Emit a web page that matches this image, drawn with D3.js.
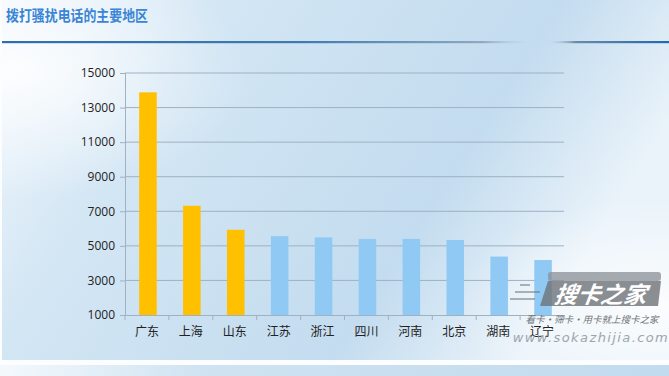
<!DOCTYPE html>
<html><head><meta charset="utf-8">
<script src="https://cdn.jsdelivr.net/npm/d3@7/dist/d3.min.js"></script>
<style>html,body{margin:0;padding:0;background:#fff;}svg{display:block;}</style>
</head><body>
<svg id="c" width="669" height="376"></svg>
<script>
const title = "拨打骚扰电话的主要地区";
const categories = ["广东","上海","山东","江苏","浙江","四川","河南","北京","湖南","辽宁"];
const values = [13880, 7320, 5930, 5560, 5490, 5400, 5400, 5340, 4380, 4180];
const highlight = [true, true, true, false, false, false, false, false, false, false];
const yTicks = [1000, 3000, 5000, 7000, 9000, 11000, 13000, 15000];
const watermarkLogo = "搜卡之家";
const watermarkSlogan = "看卡·筛卡·用卡就上搜卡之家";
const watermarkUrl = "www.sokazhijia.com";

const svg = d3.select("#c");
const W = 669, H = 376;
const defs = svg.append("defs");

const bg = defs.append("linearGradient").attr("id","bg").attr("x1","0").attr("y1","0").attr("x2","1").attr("y2","0.35");
bg.append("stop").attr("offset","0").attr("stop-color","#f2f8fd");
bg.append("stop").attr("offset","0.3").attr("stop-color","#d3e6f4");
bg.append("stop").attr("offset","0.75").attr("stop-color","#c3dcef");
bg.append("stop").attr("offset","1").attr("stop-color","#eaf3fa");

const bg2 = defs.append("radialGradient").attr("id","glow").attr("cx","0.02").attr("cy","0.2").attr("r","0.35");
bg2.append("stop").attr("offset","0").attr("stop-color","#ffffff").attr("stop-opacity",0.85);
bg2.append("stop").attr("offset","1").attr("stop-color","#ffffff").attr("stop-opacity",0);

const bg3 = defs.append("radialGradient").attr("id","glow2").attr("cx","0.98").attr("cy","0.85").attr("r","0.3");
bg3.append("stop").attr("offset","0").attr("stop-color","#ffffff").attr("stop-opacity",0.8);
bg3.append("stop").attr("offset","1").attr("stop-color","#ffffff").attr("stop-opacity",0);

const ln = defs.append("linearGradient").attr("id","ln").attr("x1","0").attr("x2","1");
ln.append("stop").attr("offset","0").attr("stop-color","#2d6fae");
ln.append("stop").attr("offset","0.45").attr("stop-color","#3f7bb0");
ln.append("stop").attr("offset","0.72").attr("stop-color","#8fa9c0");
ln.append("stop").attr("offset","0.79").attr("stop-color","#c6dcee").attr("stop-opacity",0.3);
ln.append("stop").attr("offset","0.82").attr("stop-color","#c6dcee").attr("stop-opacity",0.2);
ln.append("stop").attr("offset","0.86").attr("stop-color","#6c8aa8");
ln.append("stop").attr("offset","1").attr("stop-color","#1f69b0");

const bot = defs.append("linearGradient").attr("id","bot").attr("x1","0").attr("x2","1");
bot.append("stop").attr("offset","0").attr("stop-color","#f4f9fd");
bot.append("stop").attr("offset","0.3").attr("stop-color","#cfe3f2");
bot.append("stop").attr("offset","1").attr("stop-color","#c2dbee");

svg.append("rect").attr("width",W).attr("height",H).attr("fill","#fbfdff");
svg.append("rect").attr("x",2).attr("y",0).attr("width",W-2).attr("height",360).attr("fill","url(#bg)");
svg.append("rect").attr("x",2).attr("y",0).attr("width",W-2).attr("height",360).attr("fill","url(#glow)");
svg.append("rect").attr("x",2).attr("y",0).attr("width",W-2).attr("height",360).attr("fill","url(#glow2)");
svg.append("rect").attr("x",0).attr("y",365).attr("width",W).attr("height",11).attr("fill","url(#bot)");

svg.append("text").attr("x",6).attr("y",21).text(title)
  .attr("font-family","'Noto Sans CJK SC'").attr("font-weight","bold").attr("font-size",15)
  .attr("textLength",142).attr("lengthAdjust","spacingAndGlyphs")
  .attr("fill","#3b84d6");
svg.append("rect").attr("x",2).attr("y",41).attr("width",W-2).attr("height",2.2).attr("fill","url(#ln)");

const m = {left:125, right:564, top:73, bottom:315};
const x = d3.scaleBand().domain(categories).range([m.left, m.right]).paddingInner(0.6).paddingOuter(0.3);
const y = d3.scaleLinear().domain([1000, 15000]).range([m.bottom, m.top]);

const g = svg.append("g");
g.selectAll("line.grid").data(yTicks.slice(1)).join("line")
  .attr("x1", m.left).attr("x2", m.right)
  .attr("y1", d=>y(d)).attr("y2", d=>y(d))
  .attr("stroke","#9fb1c2").attr("stroke-width",1);

const yAxis = d3.axisLeft(y).tickValues(yTicks).tickFormat(d3.format("d")).tickSize(5).tickPadding(5);
const ya = svg.append("g").attr("transform",`translate(${m.left},0)`).call(yAxis);
ya.select(".domain").attr("stroke","#9fb1c2");
ya.selectAll(".tick line").attr("stroke","#9fb1c2");
ya.selectAll("text").attr("font-family","'Open Sans', sans-serif").attr("font-size",12).attr("fill","#222");

g.selectAll("rect.bar").data(categories).join("rect")
  .attr("x", d=>x(d)+1).attr("width", x.bandwidth())
  .attr("y", (d,i)=>y(values[i])).attr("height", (d,i)=>y(1000)-y(values[i]))
  .attr("fill", (d,i)=>highlight[i] ? "#ffc000" : "#90c9f4");

const xAxis = d3.axisBottom(x).tickSize(0).tickPadding(12);
const xa = svg.append("g").attr("transform",`translate(0,${m.bottom})`).call(xAxis);
xa.select(".domain").attr("stroke","#9fb1c2");
xa.selectAll("text").attr("font-family","'Noto Sans CJK SC'").attr("font-size",12).attr("fill","#222");
const bounds = d3.range(categories.length+1).map(i => m.left + i*(m.right-m.left)/categories.length);
xa.selectAll("line.sep").data(bounds).join("line")
  .attr("x1",d=>d).attr("x2",d=>d).attr("y1",0).attr("y2",5)
  .attr("stroke","#9fb1c2");

// watermark
const wm = svg.append("g");
wm.append("rect").attr("x",548).attr("y",272).attr("width",113).attr("height",9).attr("rx",3).attr("fill","#8a8f95").attr("opacity",0.75);
wm.append("path").attr("d","M548,281 L661,281 L658,306 L540,306 Z").attr("fill","#6e7378").attr("opacity",0.8);
[[520,285,530],[515,292,540],[510,299,535]].forEach(([a,yy,b])=>{
  wm.append("line").attr("x1",a).attr("x2",b).attr("y1",yy).attr("y2",yy).attr("stroke","#6e7378").attr("stroke-width",1.5).attr("opacity",0.7);
});
wm.append("text").attr("x",600).attr("y",303).attr("text-anchor","middle").text(watermarkLogo)
  .attr("font-family","'Noto Sans CJK SC'").attr("font-weight","bold").attr("font-style","italic")
  .attr("font-size",23).attr("fill","#ffffff").attr("transform","skewX(-8) translate(42,0)");
wm.append("text").attr("x",592).attr("y",323).attr("text-anchor","middle").text(watermarkSlogan)
  .attr("font-family","'Noto Sans CJK SC'").attr("font-style","italic").attr("font-size",9.5).attr("fill","#555a60").attr("opacity",0.85);
wm.append("text").attr("x",591).attr("y",342).attr("text-anchor","middle").text(watermarkUrl)
  .attr("font-family","'DejaVu Sans', sans-serif").attr("font-style","italic").attr("font-size",13).attr("letter-spacing",1.4).attr("fill","#8a9099").attr("opacity",0.8);
</script>
</body></html>
